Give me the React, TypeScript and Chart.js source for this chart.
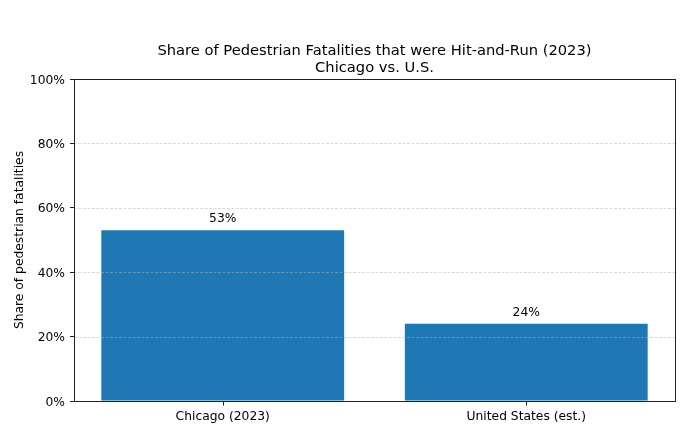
import React, { useEffect, useRef } from "react";
import { Chart, registerables } from "chart.js";

Chart.register(...registerables);

const categories = ["Chicago (2023)", "United States (est.)"];
const categoryPositions = [0, 1];
const shareValues = [53, 24];
const yTicks = [0, 20, 40, 60, 80, 100];
const titleLines = ["Share of Pedestrian Fatalities that were Hit-and-Run (2023)", "Chicago vs. U.S."];
const yAxisTitle = "Share of pedestrian fatalities";

const FONT = "'DejaVu Sans', 'Liberation Sans', sans-serif";

const overlayPlugin = {
  id: "overlay",
  afterDatasetsDraw(chart: any) {
    const { ctx, chartArea, scales } = chart;
    const y = scales.y;
    const x = scales.x;
    ctx.save();
    // dashed grid lines on top of bars
    ctx.strokeStyle = "rgba(176,176,176,0.6)";
    ctx.lineWidth = 0.8;
    ctx.setLineDash([3, 1.5]);
    yTicks.forEach((v) => {
      if (v === 0 || v === 100) return;
      const py = Math.round(y.getPixelForValue(v)) + 0.5;
      ctx.beginPath();
      ctx.moveTo(chartArea.left, py);
      ctx.lineTo(chartArea.right, py);
      ctx.stroke();
    });
    ctx.setLineDash([]);
    // spines
    ctx.strokeStyle = "#222";
    ctx.lineWidth = 1;
    ctx.strokeRect(
      Math.round(chartArea.left) + 0.5,
      Math.round(chartArea.top) + 0.5,
      Math.round(chartArea.right - chartArea.left),
      Math.round(chartArea.bottom - chartArea.top)
    );
    // x tick marks
    const by = Math.round(chartArea.bottom) + 0.5;
    categoryPositions.forEach((v) => {
      const px = Math.round(x.getPixelForValue(v)) + 0.5;
      ctx.beginPath();
      ctx.moveTo(px, by);
      ctx.lineTo(px, by + 4);
      ctx.stroke();
    });
    // value labels
    const meta = chart.getDatasetMeta(0);
    ctx.fillStyle = "#000";
    ctx.font = `12.3px ${FONT}`;
    ctx.textAlign = "center";
    ctx.textBaseline = "bottom";
    meta.data.forEach((bar: any, i: number) => {
      ctx.fillText(`${shareValues[i]}%`, bar.x, bar.y - 5);
    });
    // title centred over the plot area
    const cx = (chartArea.left + chartArea.right) / 2;
    ctx.font = `14.7px ${FONT}`;
    ctx.textBaseline = "alphabetic";
    ctx.fillText(titleLines[0], cx, chartArea.top - 24);
    ctx.fillText(titleLines[1], cx, chartArea.top - 7.5);
    ctx.restore();
  },
};

export default function App() {
  const ref = useRef<HTMLCanvasElement>(null);
  useEffect(() => {
    document.body.style.margin = "0";
    const chart = new Chart(ref.current!, {
      type: "bar",
      data: {
        datasets: [
          {
            data: categoryPositions.map((x, i) => ({ x, y: shareValues[i] })),
            backgroundColor: "#1f77b4",
            borderWidth: 0,
            inflateAmount: 0,
            barPercentage: 0.8,
            categoryPercentage: 1,
          },
        ],
      },
      options: {
        animation: false,
        responsive: false,
        devicePixelRatio: 1,
        layout: { padding: { left: 0, right: 13, top: 79, bottom: 0 } },
        plugins: {
          legend: { display: false },
          tooltip: { enabled: false },
          title: { display: false },
        },
        scales: {
          x: {
            type: "linear",
            min: -0.49,
            max: 1.49,
            offset: false,
            afterBuildTicks: (s: any) => {
              s.ticks = categoryPositions.map((v) => ({ value: v }));
            },
            grid: { display: false, drawOnChartArea: false, offset: false, tickLength: 4 },
            border: { display: false },
            ticks: {
              color: "#000",
              font: { family: FONT, size: 12.3 },
              padding: 4,
              maxRotation: 0,
              autoSkip: false,
              callback: (v: any) => categories[categoryPositions.indexOf(Number(v))] ?? "",
            },
            afterFit: (s: any) => {
              s.height = 40;
            },
          },
          y: {
            min: 0,
            max: 100,
            afterBuildTicks: (s: any) => {
              s.ticks = yTicks.map((v) => ({ value: v }));
            },
            grid: { display: true, drawOnChartArea: false, tickLength: 4, color: "#222", tickWidth: 1 },
            border: { display: false },
            ticks: {
              color: "#000",
              font: { family: FONT, size: 12.3 },
              padding: 5,
              labelOffset: 1.5,
              callback: (v: any) => `${v}%`,
            },
            title: {
              display: true,
              text: yAxisTitle,
              color: "#000",
              font: { family: FONT, size: 12.3 },
              padding: { top: 12, bottom: 0 },
            },
            afterFit: (s: any) => {
              s.width = 74;
            },
          },
        },
      },
      plugins: [overlayPlugin],
    });
    return () => chart.destroy();
  }, []);
  return (
    <div style={{ position: "fixed", left: 0, top: 0, width: 688, height: 441, background: "#fff" }}>
      <canvas ref={ref} width={688} height={441} style={{ width: 688, height: 441 }} />
    </div>
  );
}
